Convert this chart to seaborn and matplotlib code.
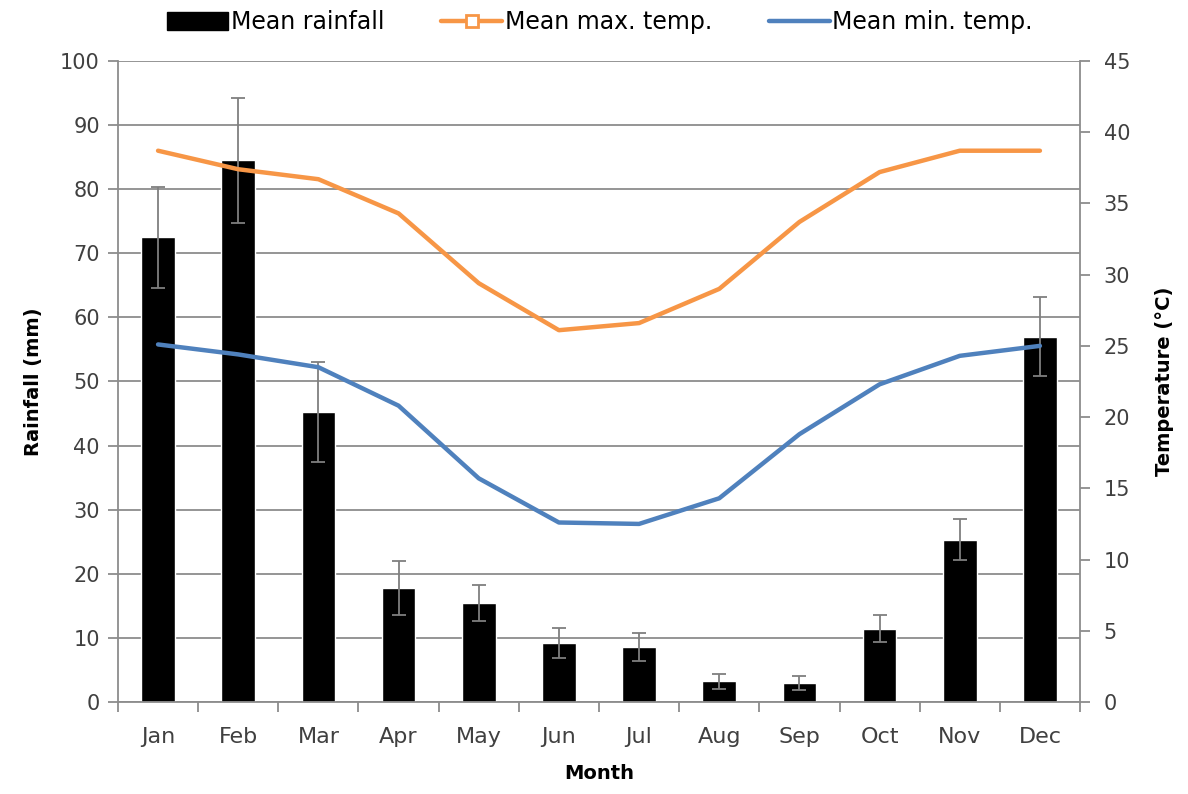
import numpy as np
import pandas as pd
import matplotlib
matplotlib.use("Agg")
import matplotlib.pyplot as plt
from matplotlib.lines import Line2D
from matplotlib.patches import Patch
import seaborn as sns

months = ["Jan", "Feb", "Mar", "Apr", "May", "Jun", "Jul", "Aug", "Sep", "Oct", "Nov", "Dec"]
rain_mean = [72.5, 84.5, 45.3, 17.8, 15.5, 9.2, 8.6, 3.2, 2.9, 11.4, 25.3, 57.0]
rain_err = [7.9, 9.8, 7.8, 4.2, 2.8, 2.4, 2.2, 1.1, 1.1, 2.1, 3.2, 6.2]
tmax = [38.7, 37.4, 36.7, 34.3, 29.4, 26.1, 26.6, 29.0, 33.7, 37.2, 38.7, 38.7]
tmin = [25.1, 24.4, 23.5, 20.8, 15.7, 12.6, 12.5, 14.3, 18.8, 22.3, 24.3, 25.0]

GRID = "#8c8c8c"
TXT = "#404040"
ORANGE = "#F79646"
BLUE = "#4F81BD"

sns.set_theme(style="white")
plt.rcParams["font.family"] = ["DejaVu Sans"]

df = pd.DataFrame({"Month": months, "Rain": rain_mean})
x = np.arange(len(months))

fig = plt.figure(figsize=(11.88, 7.94), dpi=100)
ax = fig.add_axes([0.0993, 0.1159, 0.9091 - 0.0993, 0.9232 - 0.1159])

sns.barplot(data=df, x="Month", y="Rain", color="black", width=0.42,
            saturation=1, errorbar=None, ax=ax, zorder=2)
ax.errorbar(x, rain_mean, yerr=rain_err, fmt="none", ecolor="#7f7f7f",
            elinewidth=1.3, capsize=5, capthick=1.3, zorder=3)

ax.set_ylim(0, 100)
ax.set_xlim(-0.5, 11.5)
ax.set_yticks(np.arange(0, 101, 10))
ax.yaxis.grid(True, color=GRID, linewidth=1.3, zorder=0)
ax.set_axisbelow(True)
ax.tick_params(axis="y", direction="out", length=7, width=1.3, color=GRID,
               labelsize=15, labelcolor=TXT, left=True, pad=6)
ax.set_xticks(x)
ax.set_xticks(np.arange(-0.5, 12, 1), minor=True)
ax.tick_params(axis="x", which="major", length=0, labelsize=16, labelcolor=TXT, pad=18)
ax.tick_params(axis="x", which="minor", direction="out", length=7, width=1.3,
               color=GRID, bottom=True)
ax.set_ylabel("Rainfall (mm)", fontsize=14, fontweight="bold", color="black", labelpad=12)
ax.set_xlabel("Month", fontsize=14, fontweight="bold", color="black", labelpad=12)
for s in ["top", "right"]:
    ax.spines[s].set_visible(False)
for s in ["left", "bottom"]:
    ax.spines[s].set_color(GRID)
    ax.spines[s].set_linewidth(1.3)

ax2 = ax.twinx()
sns.lineplot(x=x, y=tmax, color=ORANGE, linewidth=3.2, ax=ax2, zorder=4)
sns.lineplot(x=x, y=tmin, color=BLUE, linewidth=3.2, ax=ax2, zorder=4)
ax2.set_ylim(0, 45)
ax2.set_yticks(np.arange(0, 46, 5))
ax2.tick_params(axis="y", direction="out", length=7, width=1.3, color=GRID,
                labelsize=15, labelcolor=TXT, right=True, pad=10)
ax2.set_ylabel("Temperature (°C)", fontsize=14, fontweight="bold", color="black", labelpad=18)
for s in ["top", "left", "bottom"]:
    ax2.spines[s].set_visible(False)
ax2.spines["right"].set_color(GRID)
ax2.spines["right"].set_linewidth(1.3)
ax2.grid(False)

handles = [
    Patch(facecolor="black", edgecolor="black", label="Mean rainfall"),
    Line2D([0], [0], color=ORANGE, linewidth=3.2, marker="s", markersize=8,
           markerfacecolor="white", markeredgecolor=ORANGE, markeredgewidth=2,
           label="Mean max. temp."),
    Line2D([0], [0], color=BLUE, linewidth=3.2, label="Mean min. temp."),
]
fig.legend(handles=handles, loc="center", bbox_to_anchor=(0.505, 0.972), ncol=3,
           frameon=False, fontsize=17, handlelength=2.6, handleheight=0.8,
           handletextpad=0.1, columnspacing=2.4, labelcolor="black")

fig.savefig("out.png", dpi=100)
